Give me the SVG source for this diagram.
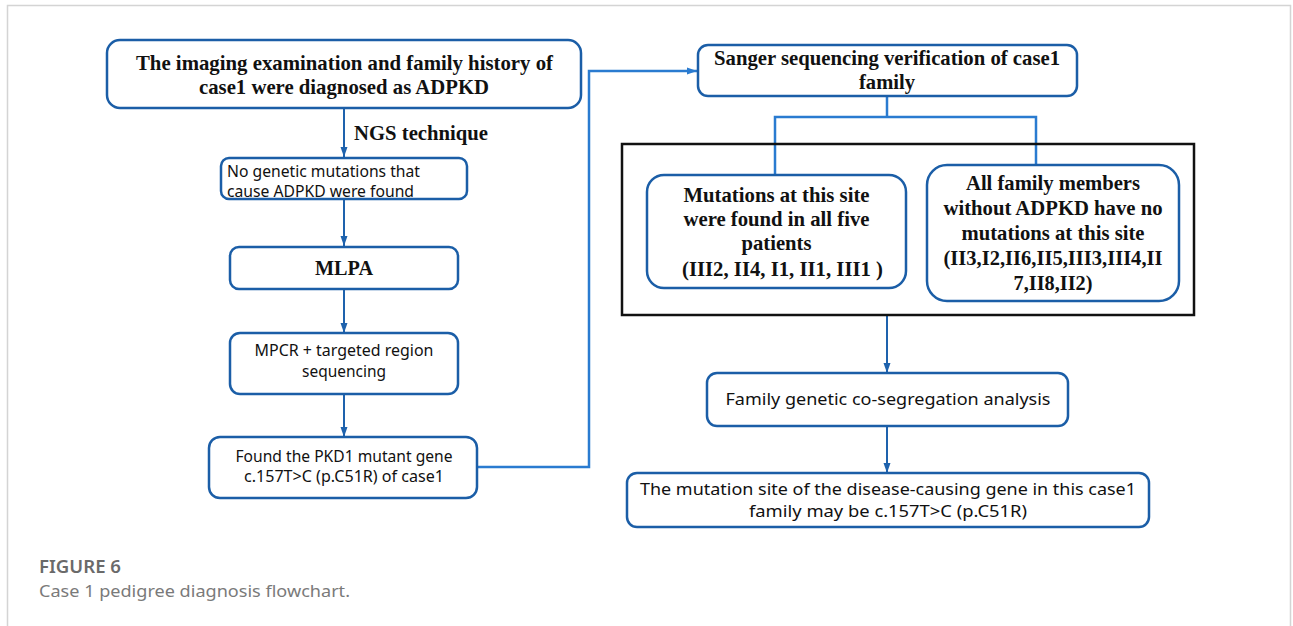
<svg xmlns="http://www.w3.org/2000/svg" width="1293" height="626" viewBox="0 0 1293 626">
<defs>
<style>
.box{fill:#fff;stroke:#1b5ea7;stroke-width:2.5}
.frame{fill:none;stroke:#d4d4d4;stroke-width:1.5}
.con{fill:none;stroke:#1e62ad;stroke-width:2}
.con2{fill:none;stroke:#2a7bd0;stroke-width:2.5}
.serif{font-family:"Liberation Serif","Times New Roman",serif;font-weight:bold;font-size:21px;fill:#111}
.sans{font-family:"Noto Sans","Liberation Sans",sans-serif;font-size:16px;fill:#111}
.mid{text-anchor:middle}
.cap{font-family:"Noto Sans","Liberation Sans",sans-serif;font-size:17px}
</style>
<marker id="ah" markerUnits="userSpaceOnUse" markerWidth="10" markerHeight="10" viewBox="0 0 10 10" refX="10" refY="5" orient="auto">
<path d="M0,1.5 L10,5 L0,8.5 Z" fill="#1e62ad"/>
</marker>
<marker id="ah2" markerUnits="userSpaceOnUse" markerWidth="10" markerHeight="10" viewBox="0 0 10 10" refX="10" refY="5" orient="auto">
<path d="M0,1.5 L10,5 L0,8.5 Z" fill="#2a7bd0"/>
</marker>
</defs>
<rect width="1293" height="626" fill="#fff"/>
<path class="frame" d="M7.5,626 V5.5 H1290.5 V626"/>

<g id="connectors">
<line class="con" x1="344" y1="109" x2="344" y2="157" marker-end="url(#ah)"/>
<line class="con" x1="344" y1="200" x2="344" y2="246" marker-end="url(#ah)"/>
<line class="con" x1="344" y1="290" x2="344" y2="333" marker-end="url(#ah)"/>
<line class="con" x1="344" y1="395" x2="344" y2="437" marker-end="url(#ah)"/>
<polyline class="con2" points="478,467 589,467 589,71 697,71" marker-end="url(#ah2)"/>
<polyline class="con2" points="887,97 887,117"/>
<polyline class="con2" points="775,175 775,117 1036,117 1036,165"/>
<line class="con" x1="887" y1="316" x2="887" y2="373" marker-end="url(#ah)"/>
<line class="con" x1="887" y1="427" x2="887" y2="473" marker-end="url(#ah)"/>
</g>

<g id="n1">
<rect class="box" x="107" y="40" width="474" height="68" rx="13"/>
<text class="serif mid" x="344.5" y="70" font-size="22" textLength="417" lengthAdjust="spacingAndGlyphs">The imaging examination and family history of</text>
<text class="serif mid" x="344" y="94" font-size="22" textLength="290" lengthAdjust="spacingAndGlyphs">case1 were diagnosed as ADPKD</text>
</g>

<g id="label-ngs">
<text class="serif" x="354" y="140" textLength="134" lengthAdjust="spacingAndGlyphs">NGS technique</text>
</g>

<g id="n2">
<rect class="box" x="221" y="158" width="246" height="41" rx="8"/>
<text class="sans" x="227" y="177" textLength="193" lengthAdjust="spacingAndGlyphs">No genetic mutations that</text>
<text class="sans" x="227" y="197" textLength="187" lengthAdjust="spacingAndGlyphs">cause ADPKD were found</text>
</g>

<g id="n3">
<rect class="box" x="230" y="247" width="228" height="42" rx="9"/>
<text class="serif mid" x="344" y="275" textLength="58" lengthAdjust="spacingAndGlyphs">MLPA</text>
</g>

<g id="n4">
<rect class="box" x="230" y="333" width="228" height="61" rx="10"/>
<text class="sans mid" x="344" y="356" font-size="15.5" textLength="179" lengthAdjust="spacingAndGlyphs">MPCR + targeted region</text>
<text class="sans mid" x="344" y="377" font-size="15.5" textLength="84" lengthAdjust="spacingAndGlyphs">sequencing</text>
</g>

<g id="n5">
<rect class="box" x="209" y="437" width="268" height="61" rx="11"/>
<text class="sans mid" x="344" y="462" textLength="217" lengthAdjust="spacingAndGlyphs">Found the PKD1 mutant gene</text>
<text class="sans mid" x="344" y="482" textLength="200" lengthAdjust="spacingAndGlyphs">c.157T&gt;C (p.C51R) of case1</text>
</g>

<g id="n6">
<rect class="box" x="698" y="45" width="379" height="51" rx="10"/>
<text class="serif mid" x="887" y="65" textLength="346" lengthAdjust="spacingAndGlyphs">Sanger sequencing verification of case1</text>
<text class="serif mid" x="887" y="89" textLength="56" lengthAdjust="spacingAndGlyphs">family</text>
</g>

<g id="group-box">
<rect x="622" y="144" width="572" height="171" fill="none" stroke="#111" stroke-width="2.5"/>
</g>

<g id="n7">
<rect class="box" x="647" y="175" width="259" height="113" rx="17"/>
<text class="serif mid" x="776.5" y="202" textLength="186" lengthAdjust="spacingAndGlyphs">Mutations at this site</text>
<text class="serif mid" x="776.5" y="226" textLength="186" lengthAdjust="spacingAndGlyphs">were found in all five</text>
<text class="serif mid" x="776.5" y="250" textLength="70" lengthAdjust="spacingAndGlyphs">patients</text>
<text class="serif mid" x="782.5" y="276" textLength="201" lengthAdjust="spacingAndGlyphs">(III2, II4, I1, II1, III1 )</text>
</g>

<g id="n8">
<rect class="box" x="927" y="165" width="252" height="136" rx="20"/>
<text class="serif mid" x="1053" y="190" textLength="174" lengthAdjust="spacingAndGlyphs">All family members</text>
<text class="serif mid" x="1053" y="215" textLength="219" lengthAdjust="spacingAndGlyphs">without ADPKD have no</text>
<text class="serif mid" x="1053" y="240" textLength="183" lengthAdjust="spacingAndGlyphs">mutations at this site</text>
<text class="serif mid" x="1053" y="265" textLength="219" lengthAdjust="spacingAndGlyphs">(II3,I2,II6,II5,III3,III4,II</text>
<text class="serif mid" x="1053" y="290" textLength="79" lengthAdjust="spacingAndGlyphs">7,II8,II2)</text>
</g>

<g id="n9">
<rect class="box" x="707" y="373" width="361" height="53" rx="10"/>
<text class="sans mid" x="888" y="405" font-size="17" textLength="325" lengthAdjust="spacingAndGlyphs">Family genetic co-segregation analysis</text>
</g>

<g id="n10">
<rect class="box" x="627" y="473" width="522" height="54" rx="10"/>
<text class="sans mid" x="888" y="495" font-size="17" textLength="496" lengthAdjust="spacingAndGlyphs">The mutation site of the disease-causing gene in this case1</text>
<text class="sans mid" x="888" y="517" font-size="17" textLength="278" lengthAdjust="spacingAndGlyphs">family may be c.157T&gt;C (p.C51R)</text>
</g>

<g id="caption">
<text class="cap" x="39" y="573" fill="#6a6a6a" font-weight="600" textLength="82" lengthAdjust="spacingAndGlyphs">FIGURE 6</text>
<text class="cap" x="39" y="597" fill="#7a7a7a" textLength="311" lengthAdjust="spacingAndGlyphs">Case 1 pedigree diagnosis flowchart.</text>
</g>
</svg>
